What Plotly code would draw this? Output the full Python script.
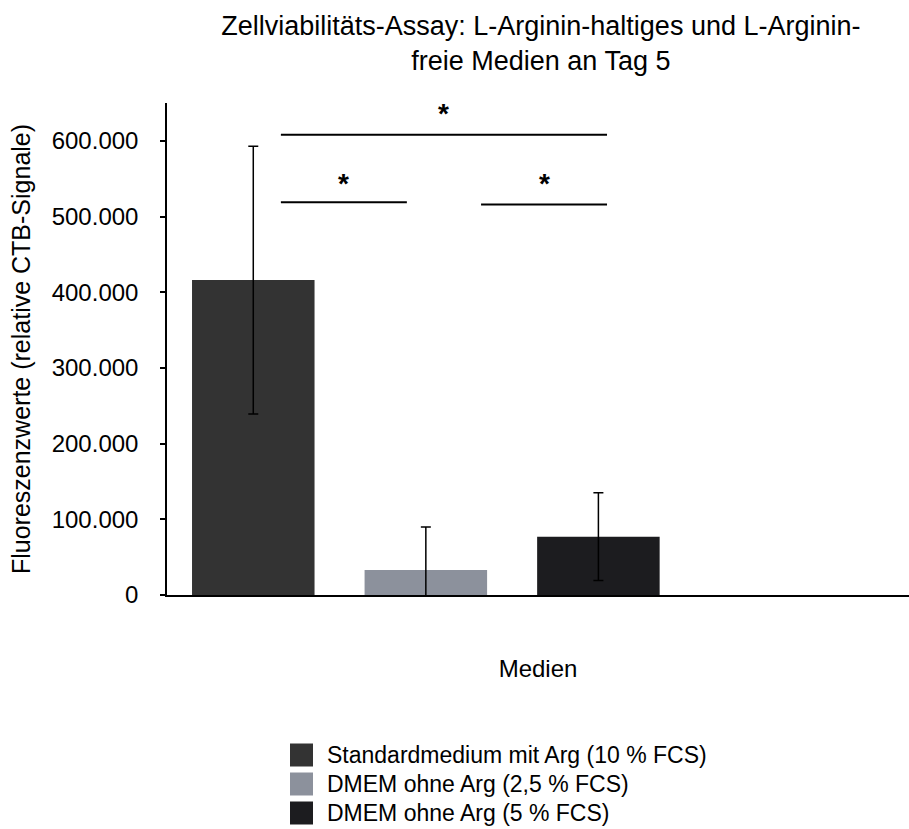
import plotly.graph_objects as go

categories = ["Standardmedium mit Arg (10 % FCS)", "DMEM ohne Arg (2,5 % FCS)", "DMEM ohne Arg (5 % FCS)"]
means = [416000, 33000, 77000]
errors = [177000, 57000, 58000]
colors = ["#333333", "#8c919c", "#1c1c1f"]
positions = [0, 1, 2]

# significance brackets: (x0, x1, y_line, y_star)
sig_x0 = [0.16, 0.16, 1.32]
sig_x1 = [2.05, 0.89, 2.05]
sig_y = [608000, 519000, 516000]
sig_star_y = [636000, 543000, 543000]
sig_label = ["*", "*", "*"]

FONT = "Liberation Sans, Arial, Helvetica, sans-serif"

fig = go.Figure()
for i, name in enumerate(categories):
    fig.add_trace(go.Bar(
        x=[positions[i]], y=[means[i]], name=name, width=0.71,
        marker=dict(color=colors[i], line=dict(width=0)),
        error_y=dict(type="data", array=[errors[i]], visible=True,
                     color="black", thickness=1.5, width=5),
        showlegend=False,
    ))

for x0, x1, y, ys, lab in zip(sig_x0, sig_x1, sig_y, sig_star_y, sig_label):
    fig.add_shape(type="line", x0=x0, x1=x1, y0=y, y1=y, xref="x", yref="y",
                  line=dict(color="black", width=2))
    fig.add_annotation(x=(x0 + x1) / 2, y=ys, text="<b>" + lab + "</b>", showarrow=False,
                       xref="x", yref="y", font=dict(size=28, color="black"))

# legend drawn below the plot (paper coordinates: 0..1 = plot area)
plot_left, plot_w, plot_bottom, plot_h = 167, 742, 595, 492
leg_sq_x0, leg_sq_x1, leg_text_x = 290, 313, 325
leg_y0, leg_dy, leg_half = 755, 29, 11.5
for i, name in enumerate(categories):
    cy = leg_y0 + i * leg_dy
    fig.add_shape(type="rect", xref="paper", yref="paper",
                  x0=(leg_sq_x0 - plot_left) / plot_w, x1=(leg_sq_x1 - plot_left) / plot_w,
                  y0=(plot_bottom - (cy - leg_half)) / plot_h, y1=(plot_bottom - (cy + leg_half)) / plot_h,
                  fillcolor=colors[i], line=dict(width=0))
    fig.add_annotation(xref="paper", yref="paper", x=(leg_text_x - plot_left) / plot_w,
                       y=(plot_bottom - cy) / plot_h, xanchor="left", yanchor="middle",
                       text=name, showarrow=False, font=dict(size=23, color="black"))

fig.update_layout(
    width=909, height=829,
    margin=dict(l=167, r=0, t=103, b=234),
    paper_bgcolor="white", plot_bgcolor="white",
    font=dict(family=FONT, size=24, color="black"),
    separators=",.",
    title=dict(text="Zellviabilitäts-Assay: L-Arginin-haltiges und L-Arginin-<br>freie Medien an Tag 5",
               x=0.595, xanchor="center", y=0.958, yanchor="middle",
               font=dict(size=27, color="black")),
    showlegend=False,
    bargap=0.29,
)
fig.update_xaxes(range=[-0.5, 3.8], showticklabels=False, ticks="", showgrid=False,
                 showline=True, linecolor="black", linewidth=1.5, zeroline=False,
                 title=dict(text="Medien", font=dict(size=24), standoff=64))
fig.update_yaxes(range=[0, 650000], tickvals=[0, 100000, 200000, 300000, 400000, 500000, 600000],
                 tickformat=",d", ticks="outside", ticklen=5, tickwidth=1.5, tickcolor="black",
                 ticklabelstandoff=17,
                 showgrid=False, showline=True, linecolor="black", linewidth=1.5, zeroline=False,
                 title=dict(text="Fluoreszenzwerte (relative CTB-Signale)", font=dict(size=25), standoff=14),
                 tickfont=dict(size=24))

fig.write_html("out.html")
